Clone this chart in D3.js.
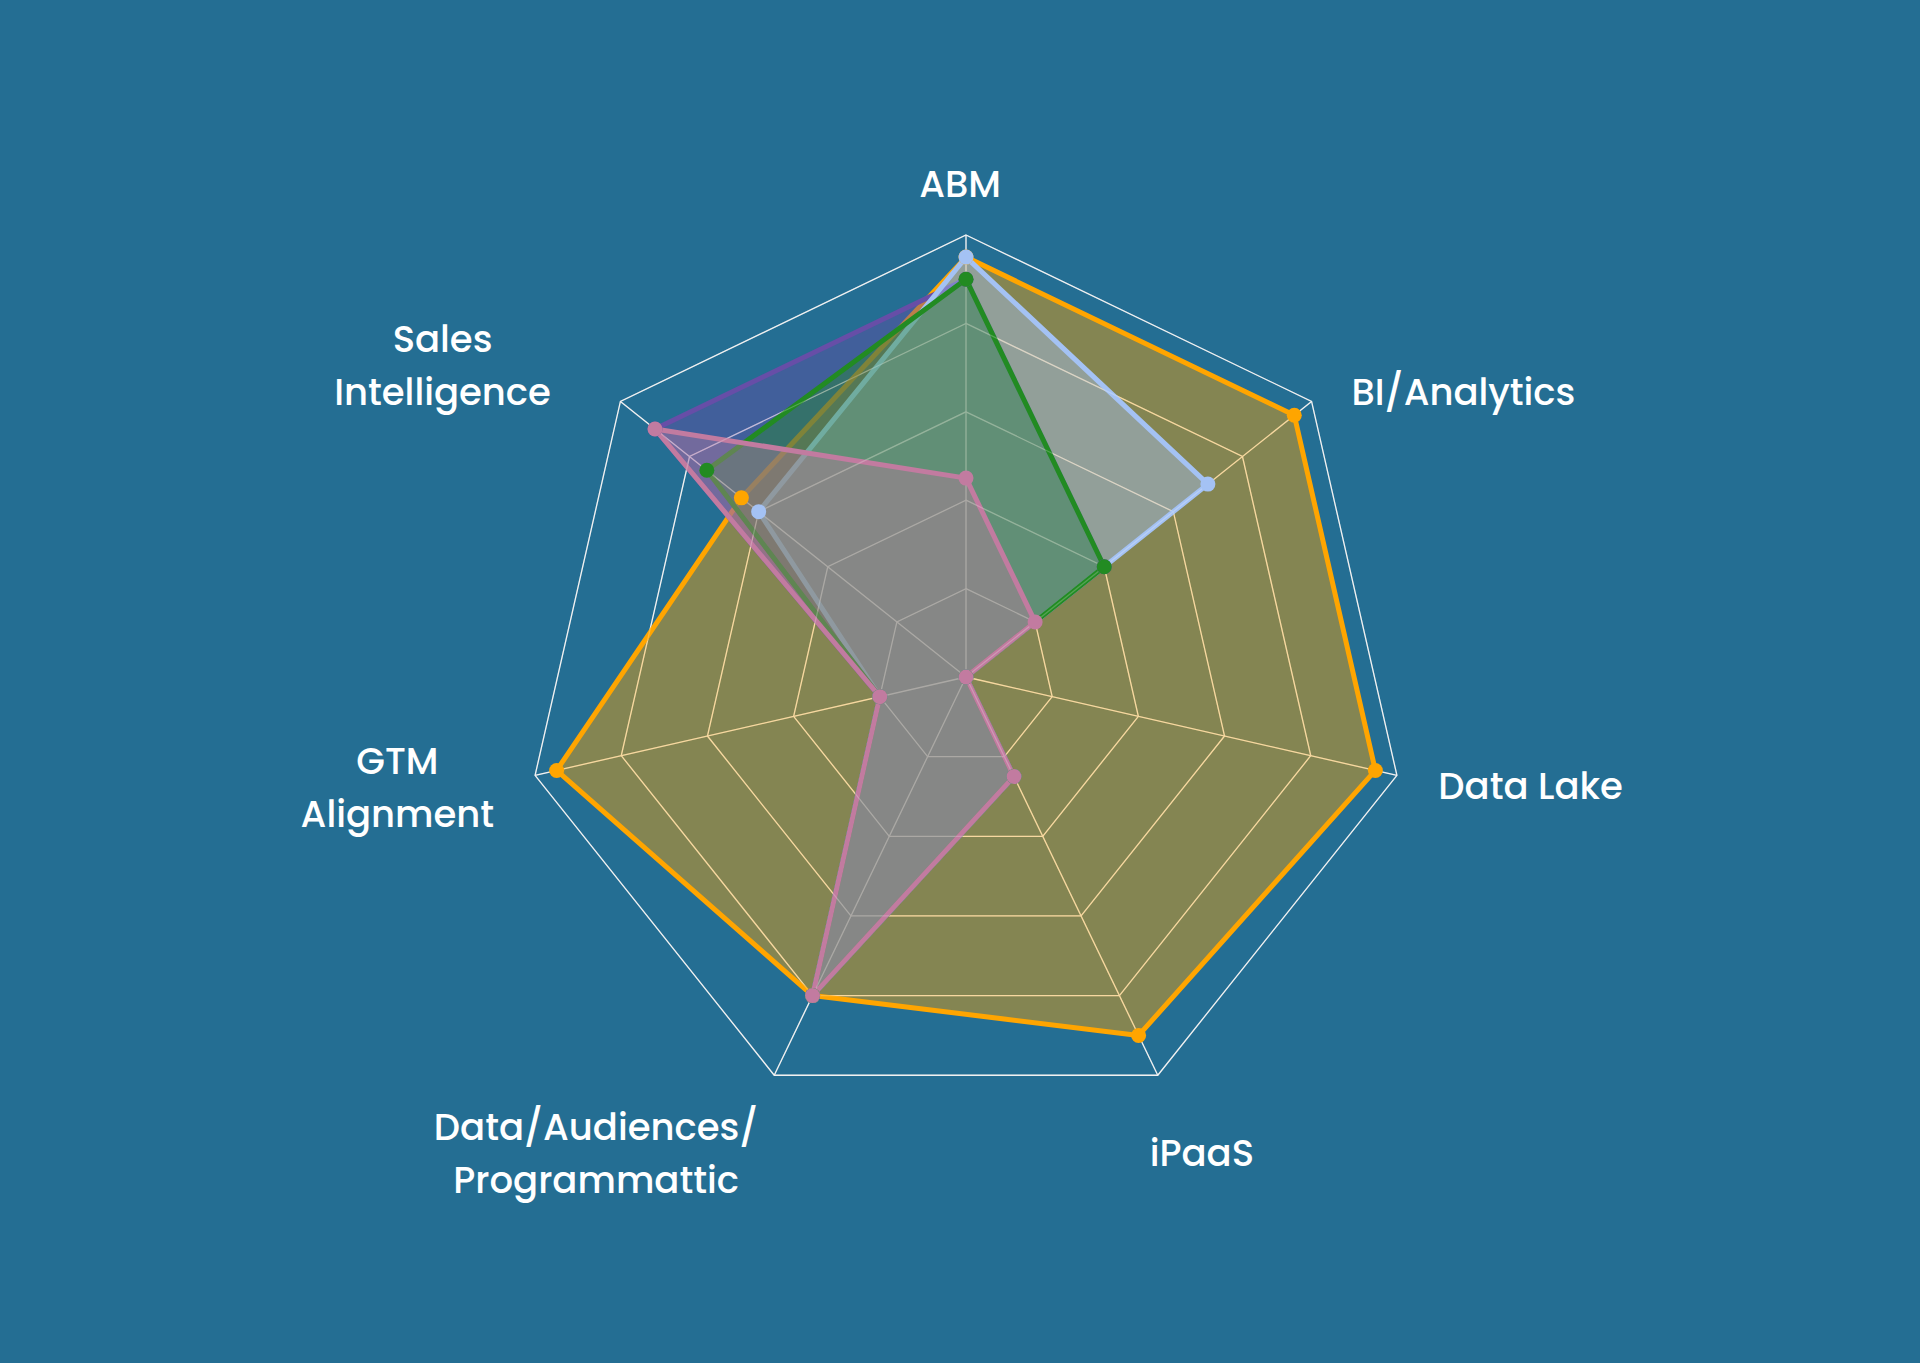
<!DOCTYPE html>
<html>
<head>
<meta charset="utf-8">
<script src="https://cdn.jsdelivr.net/npm/d3@7"></script>
<style>
  html, body { margin: 0; padding: 0; background: #246e93; }
  svg { display: block; }
</style>
</head>
<body>
<svg id="chart" width="1920" height="1363"></svg>
<script>
// ---------------- DATA ----------------
const axisLabels = [
  ["ABM"],
  ["BI/Analytics"],
  ["Data Lake"],
  ["iPaaS"],
  ["Data/Audiences/", "Programmattic"],
  ["GTM", "Alignment"],
  ["Sales", "Intelligence"]
];
const seriesNames = ["Series 1", "Series 2", "Series 3", "Series 4", "Series 5"];
const series1Values = [9.5, 9.5, 9.5, 9.0, 8.0, 9.5, 6.5];   // orange
const series2Values = [9.0, 4.0, 0.0, 2.5, 8.0, 2.0, 9.0];   // purple
const series3Values = [9.5, 7.0, 0.0, 2.5, 8.0, 2.0, 6.0];   // light blue
const series4Values = [9.0, 4.0, 0.0, 2.5, 8.0, 2.0, 7.5];   // green
const series5Values = [4.5, 2.0, 0.0, 2.5, 8.0, 2.0, 9.0];   // pink
const ringTicks = [2, 4, 6, 8, 10];
const maxValue = 10;

// ---------------- LAYOUT / STYLE ----------------
const W = 1920, H = 1363;
const cx = 966, cy = 677, R = 442;
const colors = ["#ffa500", "#674ea7", "#a4c2f4", "#228b22", "#c27ba0"];
const fillOpacities = [0.44, 0.44, 0.44, 0.40, 0.38];
const labelGap = 51;
// fine placement of axis names relative to their radial anchor point
const labelNudge = [[-6, 0], [112, 22], [84, -1], [22, 32], [-156, 32], [-88, 1], [-138, -4]];
const fontSize = 37, lineStep = 53, capH = 26;

const seriesData = [series1Values, series2Values, series3Values, series4Values, series5Values]
  .map((v, i) => ({ name: seriesNames[i], values: v, color: colors[i], op: fillOpacities[i] }));

const n = axisLabels.length;
const angle = i => i * 2 * Math.PI / n;
const r = d3.scaleLinear().domain([0, maxValue]).range([0, R]);

const svg = d3.select("#chart");
svg.append("rect").attr("width", W).attr("height", H).attr("fill", "#246e93");

const g = svg.append("g").attr("transform", `translate(${cx},${cy})`);

const ringLine = d3.lineRadial()
  .angle((d, i) => angle(i))
  .radius(d => r(d))
  .curve(d3.curveLinearClosed);

function drawGrid(parent, stroke, opacity) {
  const gg = parent.append("g").attr("opacity", opacity);
  gg.selectAll("path")
    .data(ringTicks)
    .join("path")
    .attr("d", t => ringLine(d3.range(n).map(() => t)))
    .attr("fill", "none")
    .attr("stroke", stroke)
    .attr("stroke-width", 1.3);
  gg.selectAll("line")
    .data(d3.range(n))
    .join("line")
    .attr("x1", 0).attr("y1", 0)
    .attr("x2", i => d3.pointRadial(angle(i), r(maxValue))[0])
    .attr("y2", i => d3.pointRadial(angle(i), r(maxValue))[1])
    .attr("stroke", stroke)
    .attr("stroke-width", 1.3);
}

// grid below series
drawGrid(g, "#eeeeee", 1);

// series areas + lines
const areaLine = d3.lineRadial()
  .angle((d, i) => angle(i))
  .radius(d => r(d))
  .curve(d3.curveLinearClosed);

const sg = g.append("g").selectAll("g.series")
  .data(seriesData)
  .join("g")
  .attr("class", "series");

sg.append("path")
  .attr("d", d => areaLine(d.values))
  .attr("fill", d => d.color)
  .attr("fill-opacity", d => d.op)
  .attr("stroke", d => d.color)
  .attr("stroke-width", 5)
  .attr("stroke-linejoin", "round");

// faint grid overlay
drawGrid(g, "#ffffff", 0.22);

// points on top
const pg = g.append("g").selectAll("g.pts")
  .data(seriesData)
  .join("g")
  .attr("class", "pts");

pg.selectAll("circle")
  .data(d => d.values.map((v, i) => ({ v, i, color: d.color })))
  .join("circle")
  .attr("cx", d => d3.pointRadial(angle(d.i), r(d.v))[0])
  .attr("cy", d => d3.pointRadial(angle(d.i), r(d.v))[1])
  .attr("r", 7.5)
  .attr("fill", d => d.color);

// axis names
const lg = svg.append("g")
  .attr("font-family", "Poppins, 'Open Sans', sans-serif")
  .attr("font-size", fontSize)
  .attr("font-weight", 500)
  .attr("fill", "#ffffff")
  .attr("text-anchor", "middle");

axisLabels.forEach((lines, i) => {
  const p = d3.pointRadial(angle(i), R + labelGap);
  const bx = cx + p[0] + labelNudge[i][0];
  const by = cy + p[1] + labelNudge[i][1];
  const t = lg.append("text");
  lines.forEach((ln, k) => {
    t.append("tspan")
      .attr("x", bx)
      .attr("y", by + capH / 2 + (k - (lines.length - 1) / 2) * lineStep)
      .text(ln);
  });
});
</script>
</body>
</html>
